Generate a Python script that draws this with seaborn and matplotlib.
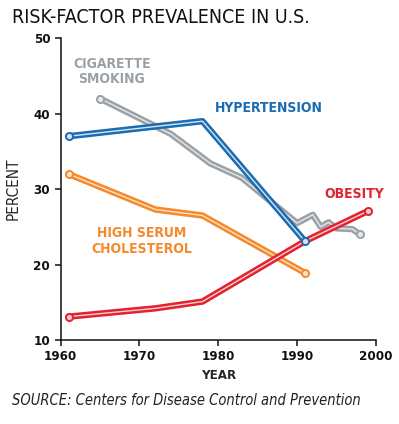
import pandas as pd
import matplotlib.pyplot as plt
import matplotlib.patheffects as pe
import seaborn as sns

# Risk-factor prevalence (percent)
hyper_years = [1961, 1978, 1991]
hyper_vals = [37.0, 39.0, 23.1]

smoke_years = [1965, 1974, 1979, 1983, 1990, 1992, 1993, 1994, 1995, 1997, 1998]
smoke_vals = [42.0, 37.3, 33.4, 31.5, 25.5, 26.6, 25.0, 25.6, 24.8, 24.7, 24.0]

chol_years = [1961, 1972, 1978, 1991]
chol_vals = [32.0, 27.3, 26.5, 18.9]

obes_years = [1961, 1972, 1978, 1991, 1999]
obes_vals = [13.1, 14.2, 15.1, 23.1, 27.1]

series = {
    "Cigarette smoking": (smoke_years, smoke_vals, "#9ba2a7", "#e6e8ea"),
    "Hypertension": (hyper_years, hyper_vals, "#1b6cb0", "#d6e6f4"),
    "High serum cholesterol": (chol_years, chol_vals, "#f5892b", "#fde4ca"),
    "Obesity": (obes_years, obes_vals, "#e1232f", "#f9d0d0"),
}

sns.set_style("ticks")
plt.rcParams['font.family'] = ['DejaVu Sans']
plt.rcParams['font.stretch'] = 'condensed'

fig = plt.figure(figsize=(3.99, 4.24), dpi=100)
ax = fig.add_axes([0.152, 0.198, 0.79, 0.712])

for name, (yrs, vals, col, inner) in series.items():
    df = pd.DataFrame({"year": yrs, "pct": vals})
    sns.lineplot(data=df, x="year", y="pct", ax=ax, color=inner, lw=1.0,
                 path_effects=[pe.SimpleLineShadow(offset=(1.3, -1.3), shadow_color="#9fb6c8", alpha=0.35),
                               pe.Stroke(linewidth=4.6, foreground=col), pe.Normal()])
    ends = df.iloc[[0, -1]]
    sns.scatterplot(data=ends, x="year", y="pct", ax=ax, color=inner,
                    edgecolor=col, linewidth=1.4, s=26, zorder=5)

ax.set_xlim(1960, 2000)
ax.set_ylim(10, 50)
ax.set_xticks([1960, 1970, 1980, 1990, 2000])
ax.set_yticks([10, 20, 30, 40, 50])
ax.tick_params(axis="both", length=4, width=1.1, labelsize=9.5, colors="#111111")
for lab in ax.get_xticklabels() + ax.get_yticklabels():
    lab.set_fontweight("bold")
sns.despine(ax=ax)
for s in ["left", "bottom"]:
    ax.spines[s].set_linewidth(1.1)
    ax.spines[s].set_color("#111111")

ax.set_xlabel("YEAR", fontsize=9.5, fontweight="bold", labelpad=4)
ax.set_ylabel("PERCENT", fontsize=11, labelpad=9)

# Series labels
lab_kw = dict(fontsize=10, fontweight="bold")
ax.text(1966.5, 45.6, "CIGARETTE\nSMOKING", color="#9ba2a7", ha="center", va="center", linespacing=1.1, **lab_kw)
ax.text(1979.6, 40.7, "HYPERTENSION", color="#1b6cb0", ha="left", va="center", **lab_kw)
ax.text(1997.2, 29.4, "OBESITY", color="#e1232f", ha="center", va="center", **lab_kw)
ax.text(1970.3, 23.1, "HIGH SERUM\nCHOLESTEROL", color="#f5892b", ha="center", va="center", linespacing=1.2, **lab_kw)

fig.text(0.03, 0.958, "RISK-FACTOR PREVALENCE IN U.S.", fontsize=14, color="#111111", va="center")
fig.text(0.03, 0.055, "SOURCE: Centers for Disease Control and Prevention", fontsize=10.5,
         style="italic", color="#222222", va="center")

plt.savefig("out.png", dpi=100)
